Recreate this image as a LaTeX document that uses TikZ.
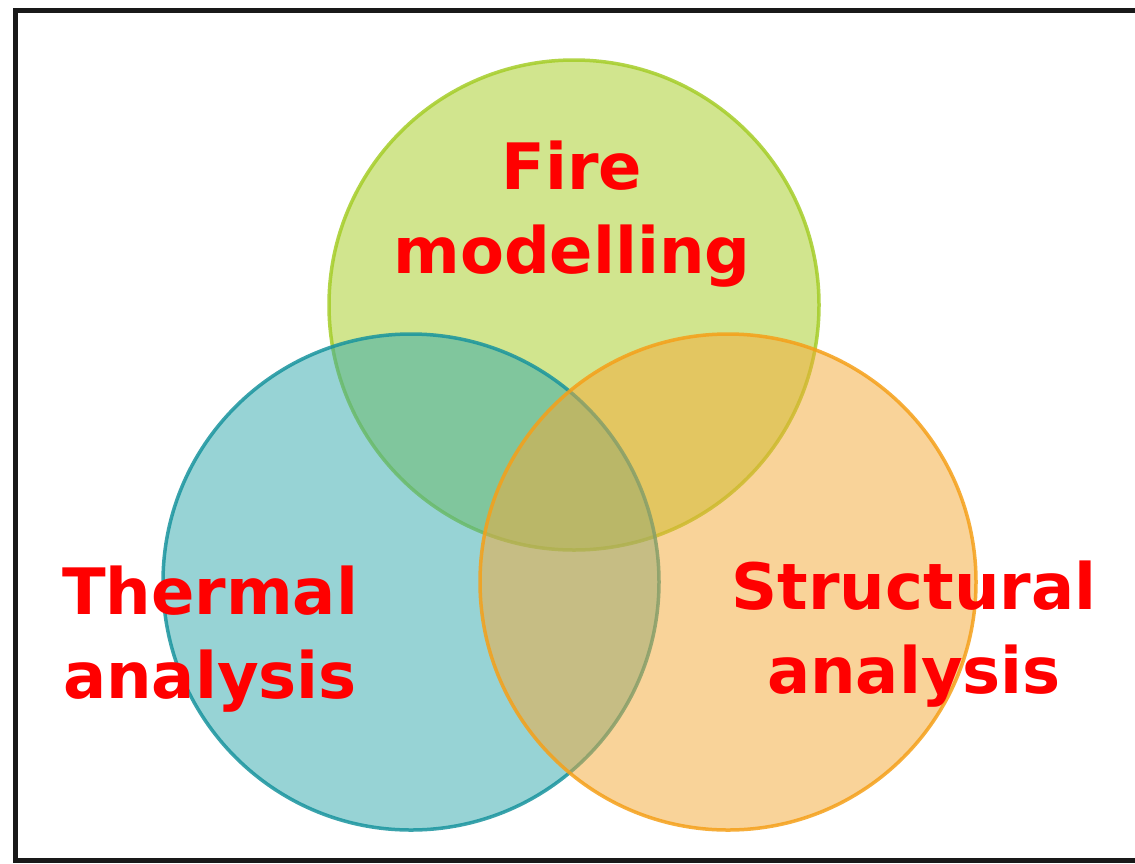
\documentclass[tikz,border=0pt]{standalone}
\usepackage{fontspec}
\setmainfont{DejaVu Sans}
\begin{document}
\begin{tikzpicture}[x=1pt,y=-1pt,
  ring/.style={circle,inner sep=0pt,line width=3.5pt,fill opacity=0.5,draw opacity=0.85},
  lbl/.style={text=red,align=center,inner sep=0pt,font=\bfseries\fontsize{64}{84}\selectfont}]
\useasboundingbox (0,0) rectangle (1135,863);
\fill[white] (0,0) rectangle (1135,863);
\definecolor{gfill}{RGB}{165,205,31}
\definecolor{tfill}{RGB}{49,169,173}
\definecolor{ofill}{RGB}{245,169,53}
\definecolor{gline}{RGB}{165,205,40}
\definecolor{tline}{RGB}{25,148,158}
\definecolor{oline}{RGB}{245,160,25}
\node[ring,fill=gfill,draw=gline,minimum size=490pt] (fire) at (574,305) {};
\node[ring,fill=tfill,draw=tline,minimum size=496pt] (thermal) at (411,582) {};
\node[ring,fill=ofill,draw=oline,minimum size=496pt] (struct) at (728,582) {};
\node[lbl,anchor=base] (t1) at (572,273) {Fire\\modelling};
\node[lbl,anchor=base] (t2) at (210,698) {Thermal\\analysis};
\node[lbl,anchor=base] (t3) at (914,693) {Structural\\analysis};
\draw[line width=5pt,draw=black!90] (15,10) rectangle (1140,860);
\end{tikzpicture}
\end{document}
